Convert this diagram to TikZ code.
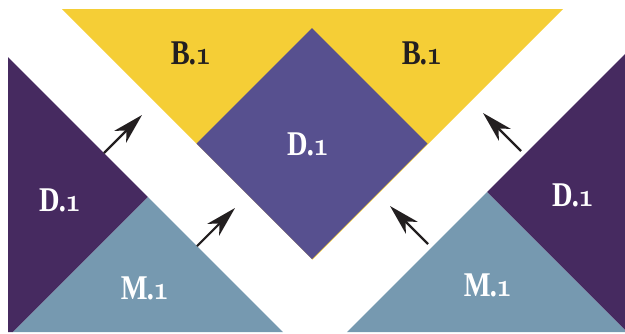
\documentclass[tikz,border=0pt]{standalone}
\usepackage{fontspec}
\usetikzlibrary{arrows.meta}
\newfontfamily\labfont{Liberation Serif}
\definecolor{ylw}{HTML}{F5CE36}
\definecolor{dmd}{HTML}{57508F}
\definecolor{dkp}{HTML}{462A60}
\definecolor{stb}{HTML}{7699B0}
\definecolor{ink}{HTML}{231F20}
\tikzset{
  lbl/.style={font=\labfont\fontsize{26}{26}\selectfont\bfseries, inner sep=0pt},
  lblw/.style={lbl, text=white},
  lblk/.style={lbl, text=ink},
  arr/.style={line width=1.6pt, draw=ink, -{Stealth[length=23pt, width=12.5pt, inset=6.5pt]}}
}
\newcommand{\lab}[1]{\scalebox{0.82}[1]{#1\kern-0.03em.\kern-0.02em{\usefont{OML}{cmm}{b}{it}1}}}
\begin{document}
\begin{tikzpicture}[x=0.75pt, y=-0.75pt]
\useasboundingbox (0,0) rectangle (625,333);
\begin{scope}
\clip (0,0) rectangle (625,332);
% yellow
\fill[ylw] (62,9) -- (563,9) -- (312.5,259.5) -- cycle;
% diamond
\fill[dmd] (312,28) -- (427.5,143.5) -- (312,259) -- (196.5,143.5) -- cycle;
% left triangles
\fill[dkp] (8,57) -- (148,197) -- (13,332) -- (8,332) -- cycle;
\fill[stb] (148,197) -- (283,332) -- (13,332) -- cycle;
% right triangles
\fill[dkp] (487,192) -- (627,52) -- (627,332) -- cycle;
\fill[stb] (487,192) -- (627,332) -- (347,332) -- cycle;
\end{scope}
% labels
\node[lblk] (b1) at (191,53) {\lab{B}};
\node[lblk] (b2) at (422,53) {\lab{B}};
\node[lblw] (d0) at (308,144) {\lab{D}};
\node[lblw] (d1) at (60,200) {\lab{D}};
\node[lblw] (d2) at (573,195) {\lab{D}};
\node[lblw] (m1) at (145,288) {\lab{M}};
\node[lblw] (m2) at (488,285) {\lab{M}};
% arrows
\coordinate (a1s) at (104,153); \coordinate (a1e) at (142,115);
\coordinate (a2s) at (197,246); \coordinate (a2e) at (235,208);
\coordinate (a3s) at (521,151); \coordinate (a3e) at (483,113);
\coordinate (a4s) at (428,244); \coordinate (a4e) at (390,206);
\draw[arr] (a1s) -- (a1e);
\draw[arr] (a2s) -- (a2e);
\draw[arr] (a3s) -- (a3e);
\draw[arr] (a4s) -- (a4e);
\end{tikzpicture}
\end{document}
